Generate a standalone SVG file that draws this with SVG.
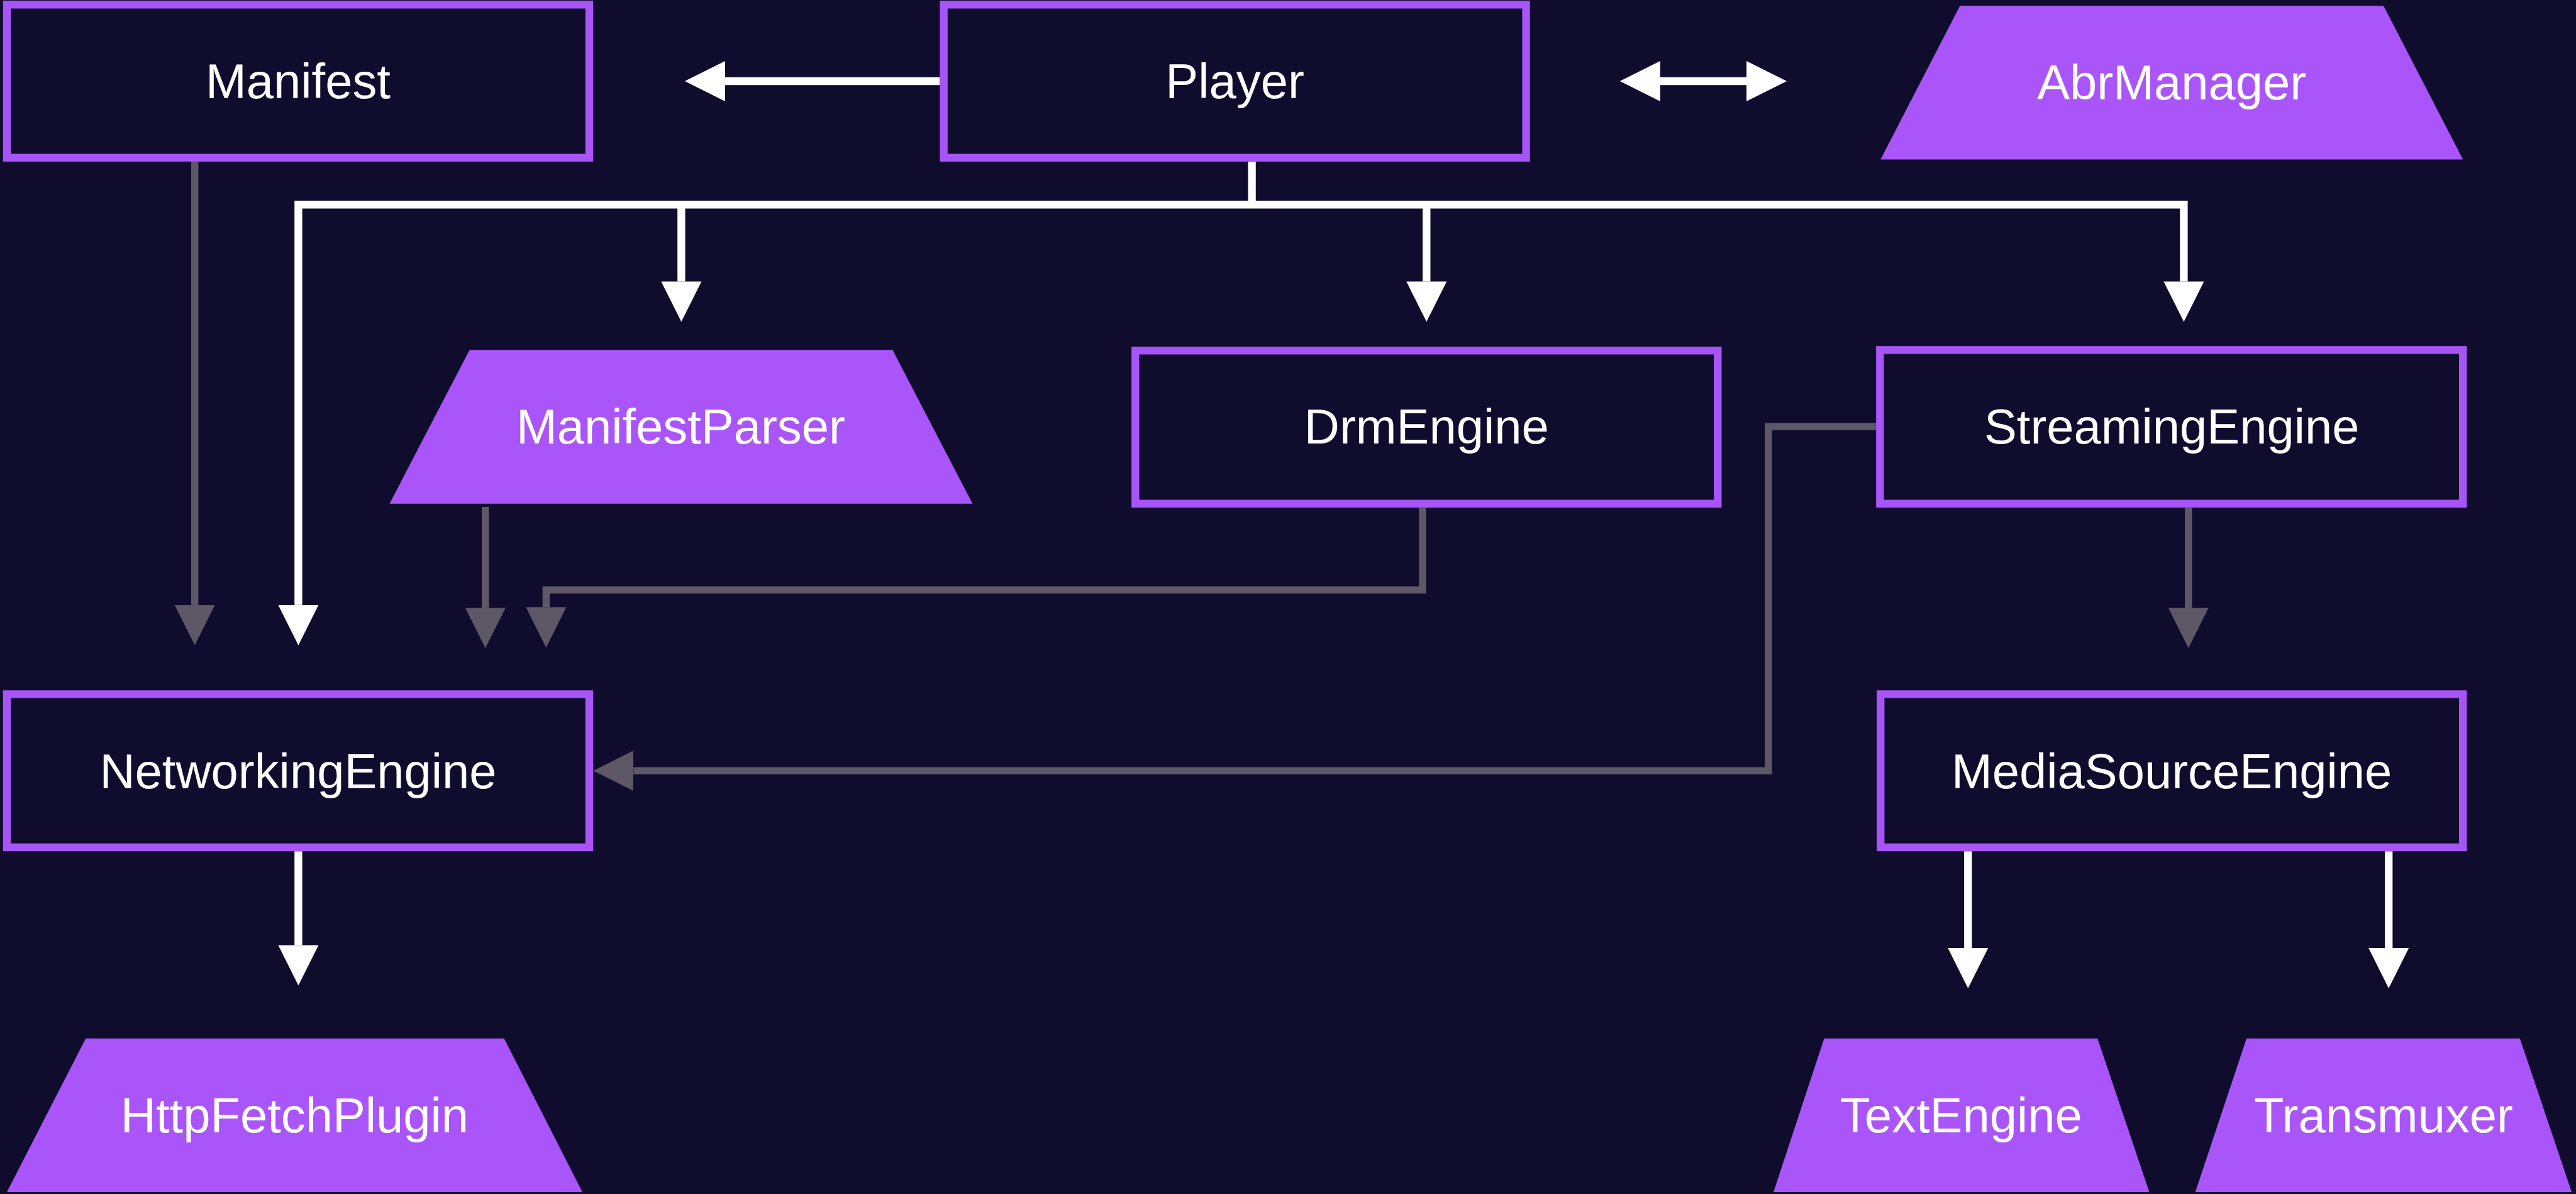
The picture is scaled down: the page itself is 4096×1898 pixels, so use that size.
<svg xmlns="http://www.w3.org/2000/svg" width="4096" height="1898" viewBox="0 0 4096 1898">
<defs>
<style>
.box{fill:#100c2e;stroke:#a855f7;stroke-width:13.5}
.trap{fill:#aa55fa}
.lbl{font-family:"Liberation Sans",Arial,sans-serif;font-size:85px;fill:#ffffff;text-anchor:middle}
.w{fill:none;stroke:#ffffff;stroke-width:13.5;stroke-linejoin:miter}
.g{fill:none;stroke:#5e5766;stroke-width:12.5;stroke-linejoin:miter}
</style>
<marker id="aw" markerUnits="userSpaceOnUse" markerWidth="72" markerHeight="72" viewBox="0 -36 72 72" refX="0" refY="0" orient="auto-start-reverse"><path d="M0,-35 L70,0 L0,35 Z" fill="#ffffff"/></marker>
<marker id="ag" markerUnits="userSpaceOnUse" markerWidth="72" markerHeight="72" viewBox="0 -36 72 72" refX="0" refY="0" orient="auto"><path d="M0,-35 L70,0 L0,35 Z" fill="#5e5766"/></marker>
</defs>
<rect x="0" y="0" width="4096" height="1898" fill="#100c2e"/>
<g transform="scale(0.915)">
<g id="connectors">
<path class="w" d="M1633,141 H1260" marker-end="url(#aw)"/>
<path class="w" d="M2885,141 H3035" marker-start="url(#aw)" marker-end="url(#aw)"/>
<path class="w" d="M2175.5,281 V355.5"/>
<path class="w" d="M3795,489 V355.5 H518.5 V1051" marker-start="url(#aw)" marker-end="url(#aw)"/>
<path class="w" d="M1184,355.5 V489" marker-end="url(#aw)"/>
<path class="w" d="M2479,355.5 V489" marker-end="url(#aw)"/>
<path class="w" d="M518.5,1479 V1642" marker-end="url(#aw)"/>
<path class="w" d="M3420,1479 V1647" marker-end="url(#aw)"/>
<path class="w" d="M4151,1479 V1647" marker-end="url(#aw)"/>
<path class="g" d="M338.5,281 V1051" marker-end="url(#ag)"/>
<path class="g" d="M843.5,881 V1056" marker-end="url(#ag)"/>
<path class="g" d="M2472,882 V1025 H949 V1055" marker-end="url(#ag)"/>
<path class="g" d="M3260,741 H3073 V1339 H1101" marker-end="url(#ag)"/>
<path class="g" d="M3803,882 V1056" marker-end="url(#ag)"/>
</g>
<g id="manifest"><rect class="box" x="12" y="8" width="1012" height="266"/><text class="lbl" x="518" y="171">Manifest</text></g>
<g id="player"><rect class="box" x="1640" y="8" width="1012" height="266"/><text class="lbl" x="2146" y="171">Player</text></g>
<g id="abrmanager"><polygon class="trap" points="3406,10 4142,10 4280,277 3268,277"/><text class="lbl" x="3774" y="173">AbrManager</text></g>
<g id="manifestparser"><polygon class="trap" points="816,608 1551,608 1690,875 677,875"/><text class="lbl" x="1183" y="771">ManifestParser</text></g>
<g id="drmengine"><rect class="box" x="1973" y="609" width="1012" height="266"/><text class="lbl" x="2479" y="771">DrmEngine</text></g>
<g id="streamingengine"><rect class="box" x="3267" y="608" width="1013" height="267"/><text class="lbl" x="3774" y="771">StreamingEngine</text></g>
<g id="networkingengine"><rect class="box" x="12" y="1206" width="1012" height="266"/><text class="lbl" x="518" y="1369">NetworkingEngine</text></g>
<g id="mediasourceengine"><rect class="box" x="3268" y="1206" width="1012" height="266"/><text class="lbl" x="3774" y="1369">MediaSourceEngine</text></g>
<g id="httpfetchplugin"><polygon class="trap" points="149,1804 876,1804 1012,2071 12,2071"/><text class="lbl" x="512" y="1967">HttpFetchPlugin</text></g>
<g id="textengine"><polygon class="trap" points="3170,1804 3645,1804 3735,2071 3082,2071"/><text class="lbl" x="3408" y="1967">TextEngine</text></g>
<g id="transmuxer"><polygon class="trap" points="3904,1804 4379,1804 4469,2071 3815,2071"/><text class="lbl" x="4142" y="1967">Transmuxer</text></g>
</g>
</svg>
